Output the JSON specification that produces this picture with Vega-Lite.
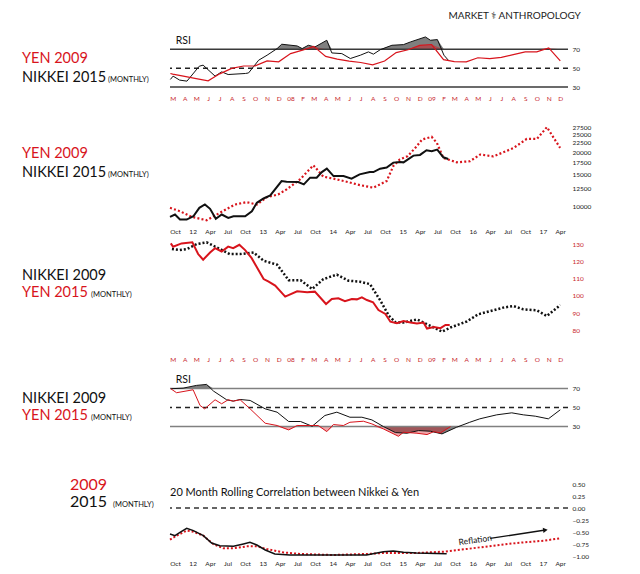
{
"$schema": "https://vega.github.io/schema/vega-lite/v6.json",
"background": "white",
"padding": {"left": 5, "top": 10, "right": 5, "bottom": 4},
"title": {"text": "MARKET ⚕ ANTHROPOLOGY", "anchor": "end", "fontSize": 10, "fontWeight": "normal", "font": "Lato", "color": "#222", "baseline": "alphabetic", "offset": 6.25, "dx": -10},
"config": {"font": "Lato", "view": {"stroke": null}, "axis": {"grid": false, "domain": false, "ticks": false, "labelFont": "Lato"}, "title": {"font": "Lato", "fontWeight": "normal"}},
"spacing": 0,
"datasets": {
"rsi_levels": [{"level": 70, "kind": "overbought"}, {"level": 50, "kind": "midline"}, {"level": 30, "kind": "oversold"}],
"corr_reference": [{"level": 0}],
"panel_notes": [
{"panel": "rsi_top", "text": "RSI", "date": "2007-03-09", "value": 75.5},
{"panel": "rsi_bottom", "text": "RSI", "date": "2007-03-09", "value": 75.6},
{"panel": "correlation", "text": "20 Month Rolling Correlation between Nikkei & Yen", "date": "2011-09-05", "value": 0.256}
],
"annotations": [{"label": "Reflation", "date": "2016-01-14", "value": -0.667, "arrow_start": "2016-04-01", "arrow_start_value": -0.635, "arrow_end": "2017-01-14", "arrow_end_value": -0.458}],
"rsi_top": [
{"series": "Yen 2009", "date": "2007-02-23", "rsi": 44.4},
{"series": "Yen 2009", "date": "2007-03-01", "rsi": 43.7},
{"series": "Yen 2009", "date": "2007-04-01", "rsi": 41.3},
{"series": "Yen 2009", "date": "2007-05-01", "rsi": 38.9},
{"series": "Yen 2009", "date": "2007-06-01", "rsi": 36.7},
{"series": "Yen 2009", "date": "2007-07-01", "rsi": 44.0},
{"series": "Yen 2009", "date": "2007-08-01", "rsi": 49.8},
{"series": "Yen 2009", "date": "2007-09-01", "rsi": 52.3},
{"series": "Yen 2009", "date": "2007-10-01", "rsi": 52.5},
{"series": "Yen 2009", "date": "2007-11-01", "rsi": 57.7},
{"series": "Yen 2009", "date": "2007-12-01", "rsi": 56.7},
{"series": "Yen 2009", "date": "2008-01-01", "rsi": 65.4},
{"series": "Yen 2009", "date": "2008-02-01", "rsi": 69.0},
{"series": "Yen 2009", "date": "2008-03-01", "rsi": 73.0},
{"series": "Yen 2009", "date": "2008-04-01", "rsi": 62.5},
{"series": "Yen 2009", "date": "2008-05-01", "rsi": 59.5},
{"series": "Yen 2009", "date": "2008-06-01", "rsi": 57.5},
{"series": "Yen 2009", "date": "2008-07-01", "rsi": 56.0},
{"series": "Yen 2009", "date": "2008-08-01", "rsi": 53.5},
{"series": "Yen 2009", "date": "2008-09-01", "rsi": 57.5},
{"series": "Yen 2009", "date": "2008-10-01", "rsi": 66.5},
{"series": "Yen 2009", "date": "2008-11-01", "rsi": 69.5},
{"series": "Yen 2009", "date": "2008-12-01", "rsi": 74.0},
{"series": "Yen 2009", "date": "2009-01-01", "rsi": 75.0},
{"series": "Yen 2009", "date": "2009-02-01", "rsi": 59.0},
{"series": "Yen 2009", "date": "2009-03-01", "rsi": 57.0},
{"series": "Yen 2009", "date": "2009-04-01", "rsi": 56.7},
{"series": "Yen 2009", "date": "2009-05-01", "rsi": 61.0},
{"series": "Yen 2009", "date": "2009-06-01", "rsi": 60.0},
{"series": "Yen 2009", "date": "2009-07-01", "rsi": 61.5},
{"series": "Yen 2009", "date": "2009-08-01", "rsi": 64.4},
{"series": "Yen 2009", "date": "2009-09-01", "rsi": 67.2},
{"series": "Yen 2009", "date": "2009-10-01", "rsi": 67.2},
{"series": "Yen 2009", "date": "2009-11-01", "rsi": 71.4},
{"series": "Yen 2009", "date": "2009-12-01", "rsi": 57.7},
{"series": "Nikkei 2015", "date": "2007-02-23", "rsi": 38.1},
{"series": "Nikkei 2015", "date": "2007-03-02", "rsi": 41.6},
{"series": "Nikkei 2015", "date": "2007-03-19", "rsi": 37.4},
{"series": "Nikkei 2015", "date": "2007-04-07", "rsi": 36.3},
{"series": "Nikkei 2015", "date": "2007-05-09", "rsi": 52.1},
{"series": "Nikkei 2015", "date": "2007-05-19", "rsi": 53.2},
{"series": "Nikkei 2015", "date": "2007-06-19", "rsi": 41.6},
{"series": "Nikkei 2015", "date": "2007-07-06", "rsi": 46.1},
{"series": "Nikkei 2015", "date": "2007-07-23", "rsi": 43.3},
{"series": "Nikkei 2015", "date": "2007-09-06", "rsi": 44.4},
{"series": "Nikkei 2015", "date": "2007-09-14", "rsi": 45.0},
{"series": "Nikkei 2015", "date": "2007-10-10", "rsi": 58.4},
{"series": "Nikkei 2015", "date": "2007-11-01", "rsi": 63.7},
{"series": "Nikkei 2015", "date": "2007-11-27", "rsi": 70.7},
{"series": "Nikkei 2015", "date": "2007-12-09", "rsi": 75.3},
{"series": "Nikkei 2015", "date": "2008-01-18", "rsi": 73.5},
{"series": "Nikkei 2015", "date": "2008-01-31", "rsi": 70.7},
{"series": "Nikkei 2015", "date": "2008-02-16", "rsi": 74.2},
{"series": "Nikkei 2015", "date": "2008-03-04", "rsi": 72.4},
{"series": "Nikkei 2015", "date": "2008-04-04", "rsi": 79.5},
{"series": "Nikkei 2015", "date": "2008-04-17", "rsi": 66.1},
{"series": "Nikkei 2015", "date": "2008-05-13", "rsi": 65.4},
{"series": "Nikkei 2015", "date": "2008-06-04", "rsi": 60.2},
{"series": "Nikkei 2015", "date": "2008-06-30", "rsi": 63.7},
{"series": "Nikkei 2015", "date": "2008-07-21", "rsi": 67.2},
{"series": "Nikkei 2015", "date": "2008-08-03", "rsi": 64.8},
{"series": "Nikkei 2015", "date": "2008-08-21", "rsi": 69.6},
{"series": "Nikkei 2015", "date": "2008-09-20", "rsi": 74.2},
{"series": "Nikkei 2015", "date": "2008-10-20", "rsi": 74.9},
{"series": "Nikkei 2015", "date": "2008-11-07", "rsi": 77.7},
{"series": "Nikkei 2015", "date": "2008-12-16", "rsi": 83.0},
{"series": "Nikkei 2015", "date": "2008-12-29", "rsi": 79.5},
{"series": "Nikkei 2015", "date": "2009-01-16", "rsi": 80.2},
{"series": "Nikkei 2015", "date": "2009-02-02", "rsi": 63.7},
{"series": "Nikkei 2015", "date": "2009-02-15", "rsi": 57.7}
],
"price_top": [
{"series": "Nikkei 2015", "date": "2011-09-05", "value": 8764},
{"series": "Nikkei 2015", "date": "2011-10-01", "value": 9027},
{"series": "Nikkei 2015", "date": "2011-10-27", "value": 8465},
{"series": "Nikkei 2015", "date": "2011-12-01", "value": 8465},
{"series": "Nikkei 2015", "date": "2012-01-05", "value": 8832},
{"series": "Nikkei 2015", "date": "2012-02-05", "value": 9835},
{"series": "Nikkei 2015", "date": "2012-03-05", "value": 10260},
{"series": "Nikkei 2015", "date": "2012-04-01", "value": 9710},
{"series": "Nikkei 2015", "date": "2012-05-01", "value": 8543},
{"series": "Nikkei 2015", "date": "2012-06-01", "value": 9027},
{"series": "Nikkei 2015", "date": "2012-07-05", "value": 8650},
{"series": "Nikkei 2015", "date": "2012-08-01", "value": 8832},
{"series": "Nikkei 2015", "date": "2012-10-01", "value": 8832},
{"series": "Nikkei 2015", "date": "2012-11-05", "value": 9415},
{"series": "Nikkei 2015", "date": "2012-12-01", "value": 10485},
{"series": "Nikkei 2015", "date": "2013-01-05", "value": 11078},
{"series": "Nikkei 2015", "date": "2013-02-09", "value": 11512},
{"series": "Nikkei 2015", "date": "2013-04-09", "value": 13830},
{"series": "Nikkei 2015", "date": "2013-05-05", "value": 13720},
{"series": "Nikkei 2015", "date": "2013-07-05", "value": 13650},
{"series": "Nikkei 2015", "date": "2013-08-03", "value": 13250},
{"series": "Nikkei 2015", "date": "2013-09-05", "value": 14440},
{"series": "Nikkei 2015", "date": "2013-10-09", "value": 14440},
{"series": "Nikkei 2015", "date": "2013-11-05", "value": 15510},
{"series": "Nikkei 2015", "date": "2013-12-01", "value": 16200},
{"series": "Nikkei 2015", "date": "2014-01-05", "value": 14740},
{"series": "Nikkei 2015", "date": "2014-02-26", "value": 14740},
{"series": "Nikkei 2015", "date": "2014-04-09", "value": 14260},
{"series": "Nikkei 2015", "date": "2014-05-21", "value": 15060},
{"series": "Nikkei 2015", "date": "2014-07-13", "value": 15510},
{"series": "Nikkei 2015", "date": "2014-08-01", "value": 15510},
{"series": "Nikkei 2015", "date": "2014-09-05", "value": 16200},
{"series": "Nikkei 2015", "date": "2014-10-09", "value": 16420},
{"series": "Nikkei 2015", "date": "2014-11-13", "value": 17500},
{"series": "Nikkei 2015", "date": "2014-12-17", "value": 17650},
{"series": "Nikkei 2015", "date": "2015-01-05", "value": 17560},
{"series": "Nikkei 2015", "date": "2015-02-26", "value": 19130},
{"series": "Nikkei 2015", "date": "2015-04-01", "value": 19300},
{"series": "Nikkei 2015", "date": "2015-05-05", "value": 20480},
{"series": "Nikkei 2015", "date": "2015-06-01", "value": 20230},
{"series": "Nikkei 2015", "date": "2015-06-30", "value": 20670},
{"series": "Nikkei 2015", "date": "2015-08-01", "value": 18730},
{"series": "Nikkei 2015", "date": "2015-08-26", "value": 18330},
{"series": "Yen 2009", "date": "2011-09-05", "value": 9835},
{"series": "Yen 2009", "date": "2011-10-27", "value": 9415},
{"series": "Yen 2009", "date": "2011-12-27", "value": 8764},
{"series": "Yen 2009", "date": "2012-03-14", "value": 8390},
{"series": "Yen 2009", "date": "2012-05-22", "value": 9225},
{"series": "Yen 2009", "date": "2012-08-09", "value": 10260},
{"series": "Yen 2009", "date": "2012-10-09", "value": 10570},
{"series": "Yen 2009", "date": "2012-12-01", "value": 10260},
{"series": "Yen 2009", "date": "2013-01-22", "value": 11260},
{"series": "Yen 2009", "date": "2013-03-22", "value": 11660},
{"series": "Yen 2009", "date": "2013-05-05", "value": 12430},
{"series": "Yen 2009", "date": "2013-07-14", "value": 14130},
{"series": "Yen 2009", "date": "2013-09-22", "value": 16900},
{"series": "Yen 2009", "date": "2013-11-13", "value": 14630},
{"series": "Yen 2009", "date": "2014-01-05", "value": 14260},
{"series": "Yen 2009", "date": "2014-03-14", "value": 13720},
{"series": "Yen 2009", "date": "2014-05-22", "value": 13140},
{"series": "Yen 2009", "date": "2014-08-01", "value": 12710},
{"series": "Yen 2009", "date": "2014-10-09", "value": 13830},
{"series": "Yen 2009", "date": "2014-11-13", "value": 16760},
{"series": "Yen 2009", "date": "2014-12-17", "value": 18250},
{"series": "Yen 2009", "date": "2015-01-27", "value": 19000},
{"series": "Yen 2009", "date": "2015-03-14", "value": 21500},
{"series": "Yen 2009", "date": "2015-04-12", "value": 23500},
{"series": "Yen 2009", "date": "2015-06-01", "value": 24300},
{"series": "Yen 2009", "date": "2015-06-28", "value": 22500},
{"series": "Yen 2009", "date": "2015-08-01", "value": 18570},
{"series": "Yen 2009", "date": "2015-10-09", "value": 17570},
{"series": "Yen 2009", "date": "2015-12-17", "value": 17800},
{"series": "Yen 2009", "date": "2016-02-09", "value": 19400},
{"series": "Yen 2009", "date": "2016-04-17", "value": 18960},
{"series": "Yen 2009", "date": "2016-06-09", "value": 19960},
{"series": "Yen 2009", "date": "2016-08-01", "value": 21100},
{"series": "Yen 2009", "date": "2016-10-09", "value": 23680},
{"series": "Yen 2009", "date": "2016-12-01", "value": 23680},
{"series": "Yen 2009", "date": "2017-01-22", "value": 27500},
{"series": "Yen 2009", "date": "2017-04-01", "value": 21100}
],
"price_bottom": [
{"series": "Yen 2015", "date": "2007-02-24", "value": 130.6},
{"series": "Yen 2015", "date": "2007-03-02", "value": 128.7},
{"series": "Yen 2015", "date": "2007-03-24", "value": 130.6},
{"series": "Yen 2015", "date": "2007-04-21", "value": 131.2},
{"series": "Yen 2015", "date": "2007-05-06", "value": 124.4},
{"series": "Yen 2015", "date": "2007-05-19", "value": 121.1},
{"series": "Yen 2015", "date": "2007-06-06", "value": 125.3},
{"series": "Yen 2015", "date": "2007-06-19", "value": 127.8},
{"series": "Yen 2015", "date": "2007-07-06", "value": 125.9},
{"series": "Yen 2015", "date": "2007-07-23", "value": 128.7},
{"series": "Yen 2015", "date": "2007-08-05", "value": 127.8},
{"series": "Yen 2015", "date": "2007-08-21", "value": 129.8},
{"series": "Yen 2015", "date": "2007-09-05", "value": 126.7},
{"series": "Yen 2015", "date": "2007-09-22", "value": 122.0},
{"series": "Yen 2015", "date": "2007-10-23", "value": 109.8},
{"series": "Yen 2015", "date": "2007-11-05", "value": 108.3},
{"series": "Yen 2015", "date": "2007-11-22", "value": 106.0},
{"series": "Yen 2015", "date": "2007-12-18", "value": 99.6},
{"series": "Yen 2015", "date": "2008-01-18", "value": 102.7},
{"series": "Yen 2015", "date": "2008-02-13", "value": 102.1},
{"series": "Yen 2015", "date": "2008-03-04", "value": 102.5},
{"series": "Yen 2015", "date": "2008-04-02", "value": 95.3},
{"series": "Yen 2015", "date": "2008-04-17", "value": 98.2},
{"series": "Yen 2015", "date": "2008-05-04", "value": 98.6},
{"series": "Yen 2015", "date": "2008-05-21", "value": 96.9},
{"series": "Yen 2015", "date": "2008-06-08", "value": 98.2},
{"series": "Yen 2015", "date": "2008-06-21", "value": 98.0},
{"series": "Yen 2015", "date": "2008-07-04", "value": 99.2},
{"series": "Yen 2015", "date": "2008-07-17", "value": 97.6},
{"series": "Yen 2015", "date": "2008-08-02", "value": 96.3},
{"series": "Yen 2015", "date": "2008-08-16", "value": 91.8},
{"series": "Yen 2015", "date": "2008-09-03", "value": 89.5},
{"series": "Yen 2015", "date": "2008-09-16", "value": 85.0},
{"series": "Yen 2015", "date": "2008-10-03", "value": 84.1},
{"series": "Yen 2015", "date": "2008-10-20", "value": 85.4},
{"series": "Yen 2015", "date": "2008-11-07", "value": 84.5},
{"series": "Yen 2015", "date": "2008-11-24", "value": 83.9},
{"series": "Yen 2015", "date": "2008-12-11", "value": 84.5},
{"series": "Yen 2015", "date": "2008-12-20", "value": 81.0},
{"series": "Yen 2015", "date": "2009-01-07", "value": 81.9},
{"series": "Yen 2015", "date": "2009-01-24", "value": 81.2},
{"series": "Yen 2015", "date": "2009-02-06", "value": 83.1},
{"series": "Yen 2015", "date": "2009-02-17", "value": 83.1},
{"series": "Nikkei 2009", "date": "2007-02-27", "value": 127.3},
{"series": "Nikkei 2009", "date": "2007-03-19", "value": 126.7},
{"series": "Nikkei 2009", "date": "2007-04-07", "value": 127.3},
{"series": "Nikkei 2009", "date": "2007-05-02", "value": 130.2},
{"series": "Nikkei 2009", "date": "2007-05-28", "value": 131.2},
{"series": "Nikkei 2009", "date": "2007-06-23", "value": 128.3},
{"series": "Nikkei 2009", "date": "2007-07-27", "value": 124.4},
{"series": "Nikkei 2009", "date": "2007-08-23", "value": 124.4},
{"series": "Nikkei 2009", "date": "2007-09-27", "value": 125.3},
{"series": "Nikkei 2009", "date": "2007-10-23", "value": 120.5},
{"series": "Nikkei 2009", "date": "2007-11-27", "value": 118.2},
{"series": "Nikkei 2009", "date": "2007-12-27", "value": 109.2},
{"series": "Nikkei 2009", "date": "2008-01-27", "value": 109.2},
{"series": "Nikkei 2009", "date": "2008-02-26", "value": 104.0},
{"series": "Nikkei 2009", "date": "2008-03-26", "value": 109.8},
{"series": "Nikkei 2009", "date": "2008-04-30", "value": 112.4},
{"series": "Nikkei 2009", "date": "2008-05-30", "value": 108.9},
{"series": "Nikkei 2009", "date": "2008-06-29", "value": 108.3},
{"series": "Nikkei 2009", "date": "2008-07-25", "value": 106.9},
{"series": "Nikkei 2009", "date": "2008-08-21", "value": 97.3},
{"series": "Nikkei 2009", "date": "2008-09-12", "value": 88.5},
{"series": "Nikkei 2009", "date": "2008-09-29", "value": 84.7},
{"series": "Nikkei 2009", "date": "2008-10-20", "value": 84.5},
{"series": "Nikkei 2009", "date": "2008-11-24", "value": 86.3},
{"series": "Nikkei 2009", "date": "2008-12-11", "value": 84.5},
{"series": "Nikkei 2009", "date": "2009-01-07", "value": 81.6},
{"series": "Nikkei 2009", "date": "2009-01-28", "value": 79.2},
{"series": "Nikkei 2009", "date": "2009-02-19", "value": 81.6},
{"series": "Nikkei 2009", "date": "2009-04-02", "value": 85.1},
{"series": "Nikkei 2009", "date": "2009-05-02", "value": 89.3},
{"series": "Nikkei 2009", "date": "2009-06-10", "value": 91.6},
{"series": "Nikkei 2009", "date": "2009-07-06", "value": 93.2},
{"series": "Nikkei 2009", "date": "2009-08-01", "value": 94.1},
{"series": "Nikkei 2009", "date": "2009-08-27", "value": 92.2},
{"series": "Nikkei 2009", "date": "2009-10-01", "value": 91.6},
{"series": "Nikkei 2009", "date": "2009-10-27", "value": 88.3},
{"series": "Nikkei 2009", "date": "2009-12-01", "value": 94.7}
],
"rsi_bottom": [
{"series": "Nikkei 2009", "date": "2007-02-24", "rsi": 69.7},
{"series": "Nikkei 2009", "date": "2007-03-28", "rsi": 70.3},
{"series": "Nikkei 2009", "date": "2007-05-02", "rsi": 73.2},
{"series": "Nikkei 2009", "date": "2007-05-28", "rsi": 74.2},
{"series": "Nikkei 2009", "date": "2007-06-15", "rsi": 67.2},
{"series": "Nikkei 2009", "date": "2007-07-19", "rsi": 58.1},
{"series": "Nikkei 2009", "date": "2007-08-05", "rsi": 56.7},
{"series": "Nikkei 2009", "date": "2007-08-23", "rsi": 58.4},
{"series": "Nikkei 2009", "date": "2007-09-18", "rsi": 57.4},
{"series": "Nikkei 2009", "date": "2007-10-27", "rsi": 48.6},
{"series": "Nikkei 2009", "date": "2007-11-27", "rsi": 45.1},
{"series": "Nikkei 2009", "date": "2007-12-27", "rsi": 35.3},
{"series": "Nikkei 2009", "date": "2008-01-27", "rsi": 35.3},
{"series": "Nikkei 2009", "date": "2008-02-26", "rsi": 30.3},
{"series": "Nikkei 2009", "date": "2008-03-30", "rsi": 41.6},
{"series": "Nikkei 2009", "date": "2008-04-30", "rsi": 45.1},
{"series": "Nikkei 2009", "date": "2008-06-03", "rsi": 39.8},
{"series": "Nikkei 2009", "date": "2008-07-04", "rsi": 39.8},
{"series": "Nikkei 2009", "date": "2008-07-30", "rsi": 37.0},
{"series": "Nikkei 2009", "date": "2008-08-29", "rsi": 30.0},
{"series": "Nikkei 2009", "date": "2008-09-29", "rsi": 23.7},
{"series": "Nikkei 2009", "date": "2008-10-29", "rsi": 23.0},
{"series": "Nikkei 2009", "date": "2008-11-28", "rsi": 25.8},
{"series": "Nikkei 2009", "date": "2008-12-29", "rsi": 25.1},
{"series": "Nikkei 2009", "date": "2009-01-28", "rsi": 22.3},
{"series": "Nikkei 2009", "date": "2009-03-07", "rsi": 29.3},
{"series": "Nikkei 2009", "date": "2009-04-10", "rsi": 34.5},
{"series": "Nikkei 2009", "date": "2009-05-06", "rsi": 38.1},
{"series": "Nikkei 2009", "date": "2009-06-19", "rsi": 42.3},
{"series": "Nikkei 2009", "date": "2009-07-28", "rsi": 44.4},
{"series": "Nikkei 2009", "date": "2009-08-27", "rsi": 42.3},
{"series": "Nikkei 2009", "date": "2009-09-27", "rsi": 40.9},
{"series": "Nikkei 2009", "date": "2009-10-31", "rsi": 38.1},
{"series": "Nikkei 2009", "date": "2009-12-01", "rsi": 47.6},
{"series": "Yen 2015", "date": "2007-02-24", "rsi": 69.7},
{"series": "Yen 2015", "date": "2007-03-11", "rsi": 65.5},
{"series": "Yen 2015", "date": "2007-04-23", "rsi": 68.6},
{"series": "Yen 2015", "date": "2007-05-11", "rsi": 52.1},
{"series": "Yen 2015", "date": "2007-05-23", "rsi": 48.6},
{"series": "Yen 2015", "date": "2007-06-19", "rsi": 58.1},
{"series": "Yen 2015", "date": "2007-07-06", "rsi": 53.9},
{"series": "Yen 2015", "date": "2007-07-23", "rsi": 58.1},
{"series": "Yen 2015", "date": "2007-08-05", "rsi": 56.7},
{"series": "Yen 2015", "date": "2007-08-23", "rsi": 58.1},
{"series": "Yen 2015", "date": "2007-09-18", "rsi": 48.6},
{"series": "Yen 2015", "date": "2007-10-27", "rsi": 33.5},
{"series": "Yen 2015", "date": "2007-11-27", "rsi": 31.1},
{"series": "Yen 2015", "date": "2007-12-27", "rsi": 26.5},
{"series": "Yen 2015", "date": "2008-01-18", "rsi": 31.1},
{"series": "Yen 2015", "date": "2008-02-22", "rsi": 31.1},
{"series": "Yen 2015", "date": "2008-03-13", "rsi": 31.1},
{"series": "Yen 2015", "date": "2008-04-04", "rsi": 24.7},
{"series": "Yen 2015", "date": "2008-04-21", "rsi": 32.1},
{"series": "Yen 2015", "date": "2008-05-17", "rsi": 31.1},
{"series": "Yen 2015", "date": "2008-06-03", "rsi": 34.5},
{"series": "Yen 2015", "date": "2008-07-08", "rsi": 35.6},
{"series": "Yen 2015", "date": "2008-07-30", "rsi": 32.8},
{"series": "Yen 2015", "date": "2008-08-29", "rsi": 27.5},
{"series": "Yen 2015", "date": "2008-10-07", "rsi": 19.8},
{"series": "Yen 2015", "date": "2008-10-20", "rsi": 24.0},
{"series": "Yen 2015", "date": "2008-11-24", "rsi": 23.0},
{"series": "Yen 2015", "date": "2008-12-20", "rsi": 21.6},
{"series": "Yen 2015", "date": "2009-01-07", "rsi": 24.7},
{"series": "Yen 2015", "date": "2009-01-24", "rsi": 23.3},
{"series": "Yen 2015", "date": "2009-02-19", "rsi": 30.0}
],
"correlation": [
{"series": "Nikkei 2015", "date": "2011-09-05", "corr": -0.542},
{"series": "Nikkei 2015", "date": "2011-10-01", "corr": -0.576},
{"series": "Nikkei 2015", "date": "2011-10-27", "corr": -0.507},
{"series": "Nikkei 2015", "date": "2011-12-01", "corr": -0.424},
{"series": "Nikkei 2015", "date": "2012-01-05", "corr": -0.472},
{"series": "Nikkei 2015", "date": "2012-02-26", "corr": -0.576},
{"series": "Nikkei 2015", "date": "2012-04-09", "corr": -0.729},
{"series": "Nikkei 2015", "date": "2012-05-22", "corr": -0.785},
{"series": "Nikkei 2015", "date": "2012-08-01", "corr": -0.799},
{"series": "Nikkei 2015", "date": "2012-09-22", "corr": -0.75},
{"series": "Nikkei 2015", "date": "2012-10-26", "corr": -0.715},
{"series": "Nikkei 2015", "date": "2012-12-01", "corr": -0.771},
{"series": "Nikkei 2015", "date": "2013-01-14", "corr": -0.875},
{"series": "Nikkei 2015", "date": "2013-03-05", "corr": -0.958},
{"series": "Nikkei 2015", "date": "2013-05-22", "corr": -0.979},
{"series": "Nikkei 2015", "date": "2013-10-09", "corr": -0.979},
{"series": "Nikkei 2015", "date": "2014-06-26", "corr": -0.979},
{"series": "Nikkei 2015", "date": "2014-09-22", "corr": -0.91},
{"series": "Nikkei 2015", "date": "2014-11-13", "corr": -0.896},
{"series": "Nikkei 2015", "date": "2015-01-05", "corr": -0.924},
{"series": "Nikkei 2015", "date": "2015-03-14", "corr": -0.938},
{"series": "Nikkei 2015", "date": "2015-08-18", "corr": -0.951},
{"series": "Yen 2009", "date": "2011-09-05", "corr": -0.66},
{"series": "Yen 2009", "date": "2011-10-09", "corr": -0.576},
{"series": "Yen 2009", "date": "2011-12-01", "corr": -0.472},
{"series": "Yen 2009", "date": "2012-01-05", "corr": -0.493},
{"series": "Yen 2009", "date": "2012-02-26", "corr": -0.576},
{"series": "Yen 2009", "date": "2012-04-17", "corr": -0.75},
{"series": "Yen 2009", "date": "2012-06-09", "corr": -0.84},
{"series": "Yen 2009", "date": "2012-08-01", "corr": -0.84},
{"series": "Yen 2009", "date": "2012-10-09", "corr": -0.799},
{"series": "Yen 2009", "date": "2012-12-01", "corr": -0.799},
{"series": "Yen 2009", "date": "2013-01-22", "corr": -0.854},
{"series": "Yen 2009", "date": "2013-04-17", "corr": -0.924},
{"series": "Yen 2009", "date": "2013-07-14", "corr": -0.958},
{"series": "Yen 2009", "date": "2014-01-05", "corr": -0.979},
{"series": "Yen 2009", "date": "2014-06-26", "corr": -0.958},
{"series": "Yen 2009", "date": "2014-09-22", "corr": -0.938},
{"series": "Yen 2009", "date": "2015-03-14", "corr": -0.938},
{"series": "Yen 2009", "date": "2015-08-01", "corr": -0.91},
{"series": "Yen 2009", "date": "2015-12-01", "corr": -0.854},
{"series": "Yen 2009", "date": "2016-04-17", "corr": -0.785},
{"series": "Yen 2009", "date": "2016-08-18", "corr": -0.729},
{"series": "Yen 2009", "date": "2017-01-05", "corr": -0.681},
{"series": "Yen 2009", "date": "2017-04-01", "corr": -0.632}
]
},
"vconcat": [
{
"hconcat": [
{"width": 34, "height": 86,
 "data": {"values": [{"line": 1, "text": "YEN 2009", "series": "Yen"}, {"line": 2, "text": "NIKKEI 2015", "series": "Nikkei"}, {"line": 2, "text": "(MONTHLY)", "series": "Note"}]},
 "encoding": {"y": {"field": "line", "type": "ordinal", "scale": {"type": "point", "domain": [1, 2], "range": [27.3, 45.7], "padding": 0}, "axis": null}, "text": {"field": "text"}},
 "layer": [
  {"transform": [{"filter": "datum.series !== 'Note'"}], "mark": {"type": "text", "align": "left", "baseline": "alphabetic", "fontSize": 14.5, "font": "Lato"},
   "encoding": {"color": {"field": "series", "type": "nominal", "scale": {"domain": ["Yen", "Nikkei"], "range": ["#d8141c", "#111111"]}, "legend": null}}},
  {"transform": [{"filter": "datum.series === 'Note'"}], "mark": {"type": "text", "align": "left", "baseline": "alphabetic", "fontSize": 7.5, "font": "Lato", "dx": 86, "color": "#111111"}}
 ]},
{"width": 398, "height": 53,
 "layer": [
  {"data": {"name": "rsi_top"}, "transform": [{"filter": "datum.series === 'Nikkei 2015'"}], "mark": {"type": "area", "color": "#7f7f7f"},
   "encoding": {"x": {"field": "date", "type": "temporal", "scale": {"domain": [{"year": 2007, "month": 2, "date": 22}, {"year": 2009, "month": 12, "date": 21}], "nice": false},
     "axis": {"orient": "bottom", "title": null, "tickCount": {"interval": "month", "step": 1}, "labelExpr": "month(datum.value) === 0 ? timeFormat(datum.value, '%y') : substring(timeFormat(datum.value, '%b'), 0, 1)", "labelColor": "#c8282d", "labelFontSize": 6.5, "labelPadding": 6, "labelOverlap": false, "labelFlush": false, "labelBound": false}},
    "y": {"field": "rsi", "type": "quantitative", "scale": {"domain": [70, 84], "range": [13.25, 0], "clamp": true, "nice": false, "zero": false}, "axis": null}, "y2": {"datum": 70}}},
  {"data": {"name": "rsi_top"}, "transform": [{"filter": "datum.series === 'Yen 2009'"}], "mark": {"type": "area", "color": "#d8141c", "opacity": 0.45},
   "encoding": {"x": {"field": "date", "type": "temporal", "scale": {"domain": [{"year": 2007, "month": 2, "date": 22}, {"year": 2009, "month": 12, "date": 21}], "nice": false},
     "axis": {"orient": "bottom", "title": null, "tickCount": {"interval": "month", "step": 1}, "labelExpr": "month(datum.value) === 0 ? timeFormat(datum.value, '%y') : substring(timeFormat(datum.value, '%b'), 0, 1)", "labelColor": "#c8282d", "labelFontSize": 6.5, "labelPadding": 6, "labelOverlap": false, "labelFlush": false, "labelBound": false}},
    "y": {"field": "rsi", "type": "quantitative", "scale": {"domain": [70, 84], "range": [13.25, 0], "clamp": true, "nice": false, "zero": false}, "axis": null}, "y2": {"datum": 70}}},
  {"data": {"name": "rsi_levels"}, "transform": [{"filter": "datum.kind !== 'midline'"}], "mark": {"type": "rule", "color": "#3a3a3a", "strokeWidth": 1.5},
   "encoding": {"y": {"field": "level", "type": "quantitative", "scale": {"domain": [28, 84], "nice": false, "zero": false},
    "axis": {"orient": "right", "values": [30, 50, 70], "labelFontSize": 6.5, "labelColor": "#222", "labelPadding": 4, "title": null}}}},
  {"data": {"name": "rsi_levels"}, "transform": [{"filter": "datum.kind === 'midline'"}], "mark": {"type": "rule", "color": "#222", "strokeWidth": 1.5, "strokeDash": [5, 4]},
   "encoding": {"y": {"field": "level", "type": "quantitative", "scale": {"domain": [28, 84], "nice": false, "zero": false}, "axis": null}}},
  {"data": {"name": "rsi_top"}, "transform": [{"filter": "datum.series === 'Nikkei 2015'"}], "mark": {"type": "line", "color": "#111", "strokeWidth": 1},
   "encoding": {"x": {"field": "date", "type": "temporal", "scale": {"domain": [{"year": 2007, "month": 2, "date": 22}, {"year": 2009, "month": 12, "date": 21}], "nice": false},
     "axis": {"orient": "bottom", "title": null, "tickCount": {"interval": "month", "step": 1}, "labelExpr": "month(datum.value) === 0 ? timeFormat(datum.value, '%y') : substring(timeFormat(datum.value, '%b'), 0, 1)", "labelColor": "#c8282d", "labelFontSize": 6.5, "labelPadding": 6, "labelOverlap": false, "labelFlush": false, "labelBound": false}},
    "y": {"field": "rsi", "type": "quantitative", "scale": {"domain": [28, 84], "nice": false, "zero": false}, "axis": null}}},
  {"data": {"name": "rsi_top"}, "transform": [{"filter": "datum.series === 'Yen 2009'"}], "mark": {"type": "line", "color": "#d8141c", "strokeWidth": 1.2},
   "encoding": {"x": {"field": "date", "type": "temporal", "scale": {"domain": [{"year": 2007, "month": 2, "date": 22}, {"year": 2009, "month": 12, "date": 21}], "nice": false},
     "axis": {"orient": "bottom", "title": null, "tickCount": {"interval": "month", "step": 1}, "labelExpr": "month(datum.value) === 0 ? timeFormat(datum.value, '%y') : substring(timeFormat(datum.value, '%b'), 0, 1)", "labelColor": "#c8282d", "labelFontSize": 6.5, "labelPadding": 6, "labelOverlap": false, "labelFlush": false, "labelBound": false}},
    "y": {"field": "rsi", "type": "quantitative", "scale": {"domain": [28, 84], "nice": false, "zero": false}, "axis": null}}},
  {"data": {"name": "panel_notes"}, "transform": [{"filter": "datum.panel === 'rsi_top'"}], "mark": {"type": "text", "align": "left", "baseline": "alphabetic", "fontSize": 10.5, "font": "Lato", "color": "#111"},
   "encoding": {"x": {"field": "date", "type": "temporal", "scale": {"domain": [{"year": 2007, "month": 2, "date": 22}, {"year": 2009, "month": 12, "date": 21}], "nice": false},
     "axis": {"orient": "bottom", "title": null, "tickCount": {"interval": "month", "step": 1}, "labelExpr": "month(datum.value) === 0 ? timeFormat(datum.value, '%y') : substring(timeFormat(datum.value, '%b'), 0, 1)", "labelColor": "#c8282d", "labelFontSize": 6.5, "labelPadding": 6, "labelOverlap": false, "labelFlush": false, "labelBound": false}},
    "y": {"field": "value", "type": "quantitative", "scale": {"domain": [28, 84], "nice": false, "zero": false}, "axis": null}, "text": {"field": "text"}}}
 ],
 "resolve": {"scale": {"y": "independent"}}}
],
"spacing": 131, "bounds": "flush"
},
{
"hconcat": [
{"width": 34, "height": 113.4,
 "data": {"values": [{"line": 1, "text": "YEN 2009", "series": "Yen"}, {"line": 2, "text": "NIKKEI 2015", "series": "Nikkei"}, {"line": 2, "text": "(MONTHLY)", "series": "Note"}]},
 "encoding": {"y": {"field": "line", "type": "ordinal", "scale": {"type": "point", "domain": [1, 2], "range": [35.3, 53.7], "padding": 0}, "axis": null}, "text": {"field": "text"}},
 "layer": [
  {"transform": [{"filter": "datum.series !== 'Note'"}], "mark": {"type": "text", "align": "left", "baseline": "alphabetic", "fontSize": 14.5, "font": "Lato"},
   "encoding": {"color": {"field": "series", "type": "nominal", "scale": {"domain": ["Yen", "Nikkei"], "range": ["#d8141c", "#111111"]}, "legend": null}}},
  {"transform": [{"filter": "datum.series === 'Note'"}], "mark": {"type": "text", "align": "left", "baseline": "alphabetic", "fontSize": 7.5, "font": "Lato", "dx": 86, "color": "#111111"}}
 ]},
{"width": 398, "height": 101,
 "data": {"name": "price_top"},
 "encoding": {
  "x": {"field": "date", "type": "temporal", "scale": {"domain": [{"year": 2011, "month": 9, "date": 5}, {"year": 2017, "month": 5, "date": 12}], "nice": false},
   "axis": {"orient": "bottom", "title": null, "tickCount": {"interval": "month", "step": 3}, "labelExpr": "month(datum.value) === 0 ? timeFormat(datum.value, '%y') : timeFormat(datum.value, '%b')", "labelColor": "#222", "labelFontSize": 6.5, "labelPadding": 4, "labelOverlap": false, "labelFlush": false, "labelBound": false}},
  "y": {"field": "value", "type": "quantitative", "scale": {"type": "log", "domain": [8000, 29000], "nice": false},
   "axis": {"orient": "right", "values": [10000, 12500, 15000, 17500, 20000, 22500, 25000, 27500], "format": "d", "labelFontSize": 6.5, "labelColor": "#222", "labelPadding": 4, "title": null}}},
 "layer": [
  {"transform": [{"filter": "datum.series === 'Yen 2009'"}], "mark": {"type": "line", "color": "#d8141c", "strokeWidth": 2.2, "strokeDash": [2, 2.2]}},
  {"transform": [{"filter": "datum.series === 'Nikkei 2015'"}], "mark": {"type": "line", "color": "#111", "strokeWidth": 2}}
 ]}
],
"spacing": 131, "bounds": "flush"
},
{
"hconcat": [
{"width": 34, "height": 134,
 "data": {"values": [{"line": 1, "text": "NIKKEI 2009", "series": "Nikkei"}, {"line": 2, "text": "YEN 2015", "series": "Yen"}, {"line": 2, "text": "(MONTHLY)", "series": "Note"}]},
 "encoding": {"y": {"field": "line", "type": "ordinal", "scale": {"type": "point", "domain": [1, 2], "range": [39.4, 56.4], "padding": 0}, "axis": null}, "text": {"field": "text"}},
 "layer": [
  {"transform": [{"filter": "datum.series !== 'Note'"}], "mark": {"type": "text", "align": "left", "baseline": "alphabetic", "fontSize": 14.5, "font": "Lato"},
   "encoding": {"color": {"field": "series", "type": "nominal", "scale": {"domain": ["Yen", "Nikkei"], "range": ["#d8141c", "#111111"]}, "legend": null}}},
  {"transform": [{"filter": "datum.series === 'Note'"}], "mark": {"type": "text", "align": "left", "baseline": "alphabetic", "fontSize": 7.5, "font": "Lato", "dx": 69, "color": "#111111"}}
 ]},
{"width": 398, "height": 103,
 "data": {"name": "price_bottom"},
 "encoding": {
  "x": {"field": "date", "type": "temporal", "scale": {"domain": [{"year": 2007, "month": 2, "date": 22}, {"year": 2009, "month": 12, "date": 21}], "nice": false},
   "axis": {"orient": "bottom", "title": null, "tickCount": {"interval": "month", "step": 1}, "labelExpr": "month(datum.value) === 0 ? timeFormat(datum.value, '%y') : substring(timeFormat(datum.value, '%b'), 0, 1)", "labelColor": "#c8282d", "labelFontSize": 6.5, "labelPadding": 12, "labelOverlap": false, "labelFlush": false, "labelBound": false}},
  "y": {"field": "value", "type": "quantitative", "scale": {"domain": [72, 132], "nice": false, "zero": false},
   "axis": {"orient": "right", "values": [80, 90, 100, 110, 120, 130], "labelFontSize": 6.5, "labelColor": "#c8282d", "labelPadding": 4, "title": null}}},
 "layer": [
  {"transform": [{"filter": "datum.series === 'Nikkei 2009'"}], "mark": {"type": "line", "color": "#111", "strokeWidth": 2.5, "strokeDash": [2, 2]}},
  {"transform": [{"filter": "datum.series === 'Yen 2015'"}], "mark": {"type": "line", "color": "#d8141c", "strokeWidth": 2}}
 ]}
],
"spacing": 131, "bounds": "flush"
},
{
"hconcat": [
{"width": 34, "height": 98.3,
 "data": {"values": [{"line": 1, "text": "NIKKEI 2009", "series": "Nikkei"}, {"line": 2, "text": "YEN 2015", "series": "Yen"}, {"line": 2, "text": "(MONTHLY)", "series": "Note"}]},
 "encoding": {"y": {"field": "line", "type": "ordinal", "scale": {"type": "point", "domain": [1, 2], "range": [25.7, 43.4], "padding": 0}, "axis": null}, "text": {"field": "text"}},
 "layer": [
  {"transform": [{"filter": "datum.series !== 'Note'"}], "mark": {"type": "text", "align": "left", "baseline": "alphabetic", "fontSize": 14.5, "font": "Lato"},
   "encoding": {"color": {"field": "series", "type": "nominal", "scale": {"domain": ["Yen", "Nikkei"], "range": ["#d8141c", "#111111"]}, "legend": null}}},
  {"transform": [{"filter": "datum.series === 'Note'"}], "mark": {"type": "text", "align": "left", "baseline": "alphabetic", "fontSize": 7.5, "font": "Lato", "dx": 69, "color": "#111111"}}
 ]},
{"width": 398, "height": 61,
 "layer": [
  {"data": {"name": "rsi_bottom"}, "transform": [{"filter": "datum.series === 'Nikkei 2009'"}], "mark": {"type": "area", "color": "#7f7f7f"},
   "encoding": {"x": {"field": "date", "type": "temporal", "scale": {"domain": [{"year": 2007, "month": 2, "date": 22}, {"year": 2009, "month": 12, "date": 21}], "nice": false}, "axis": null},
    "y": {"field": "rsi", "type": "quantitative", "scale": {"domain": [70, 82], "range": [11.44, 0], "clamp": true, "nice": false, "zero": false}, "axis": null}, "y2": {"datum": 70}}},
  {"data": {"name": "rsi_bottom"}, "transform": [{"filter": "datum.series === 'Nikkei 2009'"}], "mark": {"type": "area", "color": "#7f7f7f"},
   "encoding": {"x": {"field": "date", "type": "temporal", "scale": {"domain": [{"year": 2007, "month": 2, "date": 22}, {"year": 2009, "month": 12, "date": 21}], "nice": false}, "axis": null},
    "y": {"field": "rsi", "type": "quantitative", "scale": {"domain": [18, 30], "range": [61, 49.56], "clamp": true, "nice": false, "zero": false}, "axis": null}, "y2": {"datum": 30}}},
  {"data": {"name": "rsi_bottom"}, "transform": [{"filter": "datum.series === 'Yen 2015'"}], "mark": {"type": "area", "color": "#d8141c", "opacity": 0.38},
   "encoding": {"x": {"field": "date", "type": "temporal", "scale": {"domain": [{"year": 2007, "month": 2, "date": 22}, {"year": 2009, "month": 12, "date": 21}], "nice": false}, "axis": null},
    "y": {"field": "rsi", "type": "quantitative", "scale": {"domain": [18, 30], "range": [61, 49.56], "clamp": true, "nice": false, "zero": false}, "axis": null}, "y2": {"datum": 30}}},
  {"data": {"name": "rsi_levels"}, "transform": [{"filter": "datum.kind !== 'midline'"}], "mark": {"type": "rule", "color": "#808080", "strokeWidth": 1.5},
   "encoding": {"y": {"field": "level", "type": "quantitative", "scale": {"domain": [18, 82], "nice": false, "zero": false},
    "axis": {"orient": "right", "values": [30, 50, 70], "labelFontSize": 6.5, "labelColor": "#222", "labelPadding": 4, "title": null}}}},
  {"data": {"name": "rsi_levels"}, "transform": [{"filter": "datum.kind === 'midline'"}], "mark": {"type": "rule", "color": "#222", "strokeWidth": 1.5, "strokeDash": [5, 4]},
   "encoding": {"y": {"field": "level", "type": "quantitative", "scale": {"domain": [18, 82], "nice": false, "zero": false}, "axis": null}}},
  {"data": {"name": "rsi_bottom"}, "transform": [{"filter": "datum.series === 'Nikkei 2009'"}], "mark": {"type": "line", "color": "#111", "strokeWidth": 1},
   "encoding": {"x": {"field": "date", "type": "temporal", "scale": {"domain": [{"year": 2007, "month": 2, "date": 22}, {"year": 2009, "month": 12, "date": 21}], "nice": false}, "axis": null},
    "y": {"field": "rsi", "type": "quantitative", "scale": {"domain": [18, 82], "nice": false, "zero": false}, "axis": null}}},
  {"data": {"name": "rsi_bottom"}, "transform": [{"filter": "datum.series === 'Yen 2015'"}], "mark": {"type": "line", "color": "#d8141c", "strokeWidth": 1},
   "encoding": {"x": {"field": "date", "type": "temporal", "scale": {"domain": [{"year": 2007, "month": 2, "date": 22}, {"year": 2009, "month": 12, "date": 21}], "nice": false}, "axis": null},
    "y": {"field": "rsi", "type": "quantitative", "scale": {"domain": [18, 82], "nice": false, "zero": false}, "axis": null}}},
  {"data": {"name": "panel_notes"}, "transform": [{"filter": "datum.panel === 'rsi_bottom'"}], "mark": {"type": "text", "align": "left", "baseline": "alphabetic", "fontSize": 10.5, "font": "Lato", "color": "#111"},
   "encoding": {"x": {"field": "date", "type": "temporal", "scale": {"domain": [{"year": 2007, "month": 2, "date": 22}, {"year": 2009, "month": 12, "date": 21}], "nice": false}, "axis": null},
    "y": {"field": "value", "type": "quantitative", "scale": {"domain": [18, 82], "nice": false, "zero": false}, "axis": null}, "text": {"field": "text"}}}
 ],
 "resolve": {"scale": {"y": "independent"}}}
],
"spacing": 131, "bounds": "flush"
},
{
"hconcat": [
{"width": 130, "height": 72,
 "data": {"values": [{"line": 1, "text": "2009", "series": "Yen"}, {"line": 2, "text": "2015", "series": "Nikkei"}, {"line": 2, "text": "(MONTHLY)", "series": "Note"}]},
 "encoding": {"y": {"field": "line", "type": "ordinal", "scale": {"type": "point", "domain": [1, 2], "range": [5.7, 23], "padding": 0}, "axis": null}, "text": {"field": "text"}},
 "layer": [
  {"transform": [{"filter": "datum.series !== 'Note'"}], "mark": {"type": "text", "align": "left", "baseline": "alphabetic", "fontSize": 16, "font": "Lato"},
   "encoding": {"color": {"field": "series", "type": "nominal", "scale": {"domain": ["Yen", "Nikkei"], "range": ["#d8141c", "#111111"]}, "legend": null}}},
  {"transform": [{"filter": "datum.series === 'Note'"}], "mark": {"type": "text", "align": "left", "baseline": "alphabetic", "fontSize": 7.5, "font": "Lato", "dx": 43, "color": "#111111"}}
 ]},
{"width": 398, "height": 72,
 "layer": [
  {"data": {"name": "corr_reference"}, "mark": {"type": "rule", "color": "#333", "strokeWidth": 1.3, "strokeDash": [5, 4]},
   "encoding": {"y": {"field": "level", "type": "quantitative", "scale": {"domain": [-1, 0.5], "nice": false, "zero": false},
    "axis": {"orient": "right", "values": [-1, -0.75, -0.5, -0.25, 0, 0.25, 0.5], "format": ".2f", "labelFontSize": 6.5, "labelColor": "#222", "labelPadding": 4, "labelOverlap": false, "title": null}}}},
  {"data": {"name": "correlation"}, "transform": [{"filter": "datum.series === 'Yen 2009'"}], "mark": {"type": "line", "color": "#d8141c", "strokeWidth": 2, "strokeDash": [2, 2]},
   "encoding": {"x": {"field": "date", "type": "temporal", "scale": {"domain": [{"year": 2011, "month": 9, "date": 5}, {"year": 2017, "month": 5, "date": 12}], "nice": false},
     "axis": {"orient": "bottom", "title": null, "tickCount": {"interval": "month", "step": 3}, "labelExpr": "month(datum.value) === 0 ? timeFormat(datum.value, '%y') : timeFormat(datum.value, '%b')", "labelColor": "#222", "labelFontSize": 6.5, "labelPadding": 4, "labelOverlap": false, "labelFlush": false, "labelBound": false}},
    "y": {"field": "corr", "type": "quantitative", "scale": {"domain": [-1, 0.5], "nice": false, "zero": false},
     "axis": {"orient": "right", "values": [-1, -0.75, -0.5, -0.25, 0, 0.25, 0.5], "format": ".2f", "labelFontSize": 6.5, "labelColor": "#222", "labelPadding": 4, "labelOverlap": false, "title": null}}}},
  {"data": {"name": "correlation"}, "transform": [{"filter": "datum.series === 'Nikkei 2015'"}], "mark": {"type": "line", "color": "#111", "strokeWidth": 1.5},
   "encoding": {"x": {"field": "date", "type": "temporal", "scale": {"domain": [{"year": 2011, "month": 9, "date": 5}, {"year": 2017, "month": 5, "date": 12}], "nice": false},
     "axis": {"orient": "bottom", "title": null, "tickCount": {"interval": "month", "step": 3}, "labelExpr": "month(datum.value) === 0 ? timeFormat(datum.value, '%y') : timeFormat(datum.value, '%b')", "labelColor": "#222", "labelFontSize": 6.5, "labelPadding": 4, "labelOverlap": false, "labelFlush": false, "labelBound": false}},
    "y": {"field": "corr", "type": "quantitative", "scale": {"domain": [-1, 0.5], "nice": false, "zero": false},
     "axis": {"orient": "right", "values": [-1, -0.75, -0.5, -0.25, 0, 0.25, 0.5], "format": ".2f", "labelFontSize": 6.5, "labelColor": "#222", "labelPadding": 4, "labelOverlap": false, "title": null}}}},
  {"data": {"name": "annotations"}, "mark": {"type": "rule", "color": "#111", "strokeWidth": 1.3},
   "encoding": {"x": {"field": "arrow_start", "type": "temporal", "scale": {"domain": [{"year": 2011, "month": 9, "date": 5}, {"year": 2017, "month": 5, "date": 12}], "nice": false},
     "axis": {"orient": "bottom", "title": null, "tickCount": {"interval": "month", "step": 3}, "labelExpr": "month(datum.value) === 0 ? timeFormat(datum.value, '%y') : timeFormat(datum.value, '%b')", "labelColor": "#222", "labelFontSize": 6.5, "labelPadding": 4, "labelOverlap": false, "labelFlush": false, "labelBound": false}},
    "x2": {"field": "arrow_end"},
    "y": {"field": "arrow_start_value", "type": "quantitative", "scale": {"domain": [-1, 0.5], "nice": false, "zero": false},
     "axis": {"orient": "right", "values": [-1, -0.75, -0.5, -0.25, 0, 0.25, 0.5], "format": ".2f", "labelFontSize": 6.5, "labelColor": "#222", "labelPadding": 4, "labelOverlap": false, "title": null}},
    "y2": {"field": "arrow_end_value"}}},
  {"data": {"name": "annotations"}, "mark": {"type": "point", "shape": "triangle-right", "filled": true, "color": "#111", "opacity": 1, "size": 28, "angle": 352},
   "encoding": {"x": {"field": "arrow_end", "type": "temporal", "scale": {"domain": [{"year": 2011, "month": 9, "date": 5}, {"year": 2017, "month": 5, "date": 12}], "nice": false},
     "axis": {"orient": "bottom", "title": null, "tickCount": {"interval": "month", "step": 3}, "labelExpr": "month(datum.value) === 0 ? timeFormat(datum.value, '%y') : timeFormat(datum.value, '%b')", "labelColor": "#222", "labelFontSize": 6.5, "labelPadding": 4, "labelOverlap": false, "labelFlush": false, "labelBound": false}},
    "y": {"field": "arrow_end_value", "type": "quantitative", "scale": {"domain": [-1, 0.5], "nice": false, "zero": false},
     "axis": {"orient": "right", "values": [-1, -0.75, -0.5, -0.25, 0, 0.25, 0.5], "format": ".2f", "labelFontSize": 6.5, "labelColor": "#222", "labelPadding": 4, "labelOverlap": false, "title": null}}}},
  {"data": {"name": "annotations"}, "mark": {"type": "text", "angle": 352, "fontSize": 8.5, "font": "Lato", "color": "#111", "align": "center", "baseline": "middle"},
   "encoding": {"x": {"field": "date", "type": "temporal", "scale": {"domain": [{"year": 2011, "month": 9, "date": 5}, {"year": 2017, "month": 5, "date": 12}], "nice": false},
     "axis": {"orient": "bottom", "title": null, "tickCount": {"interval": "month", "step": 3}, "labelExpr": "month(datum.value) === 0 ? timeFormat(datum.value, '%y') : timeFormat(datum.value, '%b')", "labelColor": "#222", "labelFontSize": 6.5, "labelPadding": 4, "labelOverlap": false, "labelFlush": false, "labelBound": false}},
    "y": {"field": "value", "type": "quantitative", "scale": {"domain": [-1, 0.5], "nice": false, "zero": false},
     "axis": {"orient": "right", "values": [-1, -0.75, -0.5, -0.25, 0, 0.25, 0.5], "format": ".2f", "labelFontSize": 6.5, "labelColor": "#222", "labelPadding": 4, "labelOverlap": false, "title": null}},
    "text": {"field": "label"}}},
  {"data": {"name": "panel_notes"}, "transform": [{"filter": "datum.panel === 'correlation'"}], "mark": {"type": "text", "align": "left", "baseline": "alphabetic", "fontSize": 11, "font": "Lato", "color": "#111"},
   "encoding": {"x": {"field": "date", "type": "temporal", "scale": {"domain": [{"year": 2011, "month": 9, "date": 5}, {"year": 2017, "month": 5, "date": 12}], "nice": false},
     "axis": {"orient": "bottom", "title": null, "tickCount": {"interval": "month", "step": 3}, "labelExpr": "month(datum.value) === 0 ? timeFormat(datum.value, '%y') : timeFormat(datum.value, '%b')", "labelColor": "#222", "labelFontSize": 6.5, "labelPadding": 4, "labelOverlap": false, "labelFlush": false, "labelBound": false}},
    "y": {"field": "value", "type": "quantitative", "scale": {"domain": [-1, 0.5], "nice": false, "zero": false},
     "axis": {"orient": "right", "values": [-1, -0.75, -0.5, -0.25, 0, 0.25, 0.5], "format": ".2f", "labelFontSize": 6.5, "labelColor": "#222", "labelPadding": 4, "labelOverlap": false, "title": null}},
    "text": {"field": "text"}}}
 ]}
],
"spacing": 35, "bounds": "flush"
}
]
}
